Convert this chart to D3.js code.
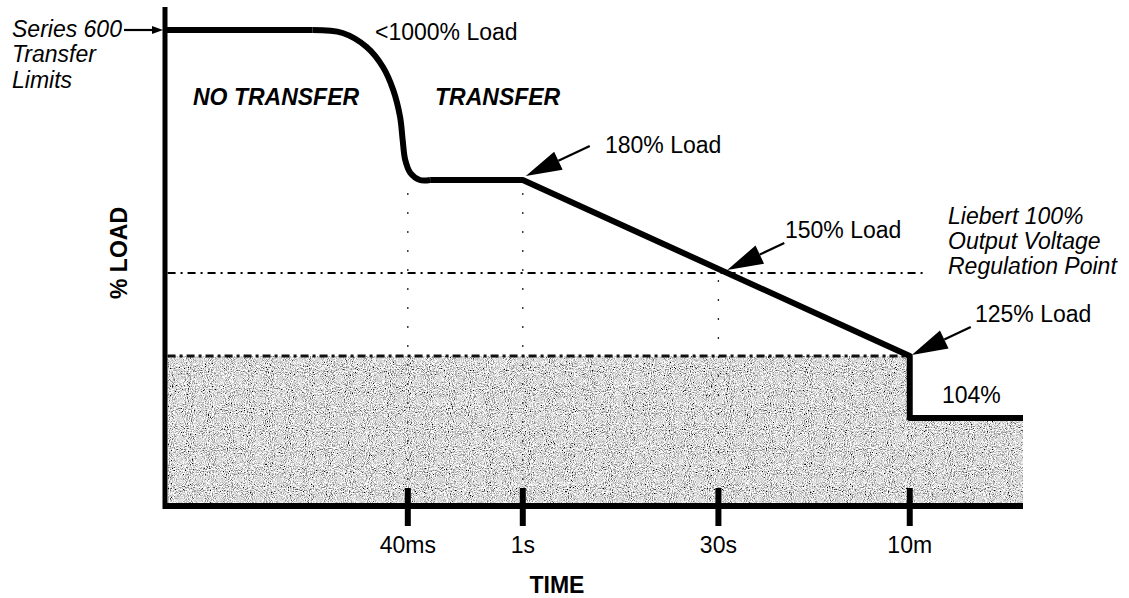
<!DOCTYPE html>
<html>
<head>
<meta charset="utf-8">
<script src="https://cdn.jsdelivr.net/npm/d3@7"></script>
<style>
  body { margin: 0; background: #fff; }
  svg text { font-family: "Liberation Sans", Arial, Helvetica, sans-serif; font-size: 23px; fill: #000; }
</style>
</head>
<body>
<svg id="chart" width="1129" height="598"></svg>
<script>
// chart data (time runs 0..100 along the axis, load 0..100 up the axis)
const tickLabels = ["40ms", "1s", "30s", "10m"];
const tickTimes = [28.3, 41.7, 64.5, 86.8];
const guideTops = [62.6, 62.6, 45.2, null];

const levelLabels = ["<1000% Load", "180% Load", "150% Load", "125% Load", "104%"];
const levelValues = [95.2, 65.2, 46.6, 30, 17.6];

// curved knee between the 1000% limit and the 180% plateau
const kneeCurve = [[17.2, 95.2], [20.7, 94.6], [23.5, 91.8], [25.4, 87.8], [26.6, 83.2],
  [27.4, 77.8], [27.7, 73.2], [28.0, 69.2], [28.6, 66.6], [29.7, 65.2], [30.9, 65.2]];
const limitStart = [[0, 95.2], [17.2, 95.2]];
const limitEnd = [[30.9, 65.2], [41.7, 65.2], [86.8, 30], [86.8, 17.6], [100, 17.6]];
// grey band under the 125% line and the 104% step
const shadeArea = [[0.3, 30], [86.8, 30], [86.8, 17.6], [100, 17.6], [100, 0.6], [0.3, 0.6]];

const svg = d3.select("#chart");
const x = d3.scaleLinear().domain([0, 100]).range([165, 1023]);
const y = d3.scaleLinear().domain([0, 100]).range([506, 6]);

// grainy grey fill like the printed original
const defs = svg.append("defs");
const grain = defs.append("filter").attr("id", "grain")
  .attr("x", 0).attr("y", 0).attr("width", 1).attr("height", 1);
grain.append("feTurbulence").attr("type", "fractalNoise")
  .attr("baseFrequency", 0.95).attr("numOctaves", 2).attr("seed", 4).attr("result", "n");
grain.append("feColorMatrix").attr("in", "n").attr("type", "matrix")
  .attr("values", "2.4 0 0 0 -0.5  2.4 0 0 0 -0.5  2.4 0 0 0 -0.5  0 0 0 0 1").attr("result", "g");
grain.append("feComposite").attr("in", "g").attr("in2", "SourceGraphic").attr("operator", "in");

const straight = d3.line().x(d => x(d[0])).y(d => y(d[1]));

svg.append("path")
  .attr("d", straight(shadeArea) + "Z")
  .attr("fill", "#bdbdbd")
  .attr("filter", "url(#grain)");

// dotted guides from the curve down to the time axis
tickTimes.forEach((t, i) => {
  if (guideTops[i] == null) return;
  svg.append("line")
    .attr("x1", x(t)).attr("x2", x(t))
    .attr("y1", y(guideTops[i])).attr("y2", y(0))
    .attr("stroke", "#222").attr("stroke-width", 1.3)
    .attr("stroke-dasharray", "2,17");
});

// dash-dot reference lines
svg.append("line")
  .attr("x1", x(0.3)).attr("x2", x(88.8))
  .attr("y1", y(levelValues[2])).attr("y2", y(levelValues[2]))
  .attr("stroke", "#000").attr("stroke-width", 2)
  .attr("stroke-dasharray", "8,5,2,5");
svg.append("line")
  .attr("x1", x(0.3)).attr("x2", x(86.8))
  .attr("y1", y(levelValues[3])).attr("y2", y(levelValues[3]))
  .attr("stroke", "#111").attr("stroke-width", 3)
  .attr("stroke-dasharray", "8,4,3,4");

// axes
svg.append("line").attr("x1", x(0)).attr("x2", x(0)).attr("y1", 7).attr("y2", y(0) + 3)
  .attr("stroke", "#000").attr("stroke-width", 5);
svg.append("line").attr("x1", x(0) - 2).attr("x2", x(100)).attr("y1", y(0)).attr("y2", y(0))
  .attr("stroke", "#000").attr("stroke-width", 6);

svg.selectAll(".tick")
  .data(tickTimes)
  .enter().append("line")
    .attr("class", "tick")
    .attr("x1", d => x(d)).attr("x2", d => x(d))
    .attr("y1", y(0) - 18).attr("y2", y(0) + 20)
    .attr("stroke", "#000").attr("stroke-width", 6);

svg.selectAll(".tick-label")
  .data(tickLabels)
  .enter().append("text")
    .attr("class", "tick-label")
    .attr("x", (d, i) => x(tickTimes[i]))
    .attr("y", 553)
    .attr("text-anchor", "middle")
    .text(d => d);

// transfer limit curve
const smooth = d3.line().x(d => x(d[0])).y(d => y(d[1])).curve(d3.curveCatmullRom.alpha(0.5));
[straight(limitStart), smooth(kneeCurve), straight(limitEnd)].forEach(p => {
  svg.append("path").attr("d", p)
    .attr("fill", "none").attr("stroke", "#000").attr("stroke-width", 6)
    .attr("stroke-linejoin", "round").attr("stroke-linecap", "butt");
});

// arrows
const arrow = (x0, y0, x1, y1, len, half) => {
  const dx = x1 - x0, dy = y1 - y0, L = Math.hypot(dx, dy);
  const ux = dx / L, uy = dy / L;
  const bx = x1 - ux * len, by = y1 - uy * len;
  svg.append("line").attr("x1", x0).attr("y1", y0).attr("x2", bx).attr("y2", by)
    .attr("stroke", "#000").attr("stroke-width", 2.2);
  svg.append("path")
    .attr("d", `M${x1},${y1}L${bx - uy * half},${by + ux * half}L${bx + uy * half},${by - ux * half}Z`)
    .attr("fill", "#000");
};
const slope = (levelValues[1] - levelValues[3]) / (tickTimes[3] - tickTimes[1]);
const t150 = tickTimes[1] + (levelValues[1] - levelValues[2]) / slope;
arrow(x(tickTimes[1]) + 67, y(levelValues[1]) - 34, x(tickTimes[1]) + 3, y(levelValues[1]) - 4, 36, 10);
arrow(x(t150) + 57, y(levelValues[2]) - 30, x(t150), y(levelValues[2]) - 3, 36, 10);
arrow(x(tickTimes[3]) + 61, y(levelValues[3]) - 29, x(tickTimes[3]) + 2, y(levelValues[3]) - 1, 36, 10);
arrow(124, y(levelValues[0]), x(0) - 2, y(levelValues[0]), 11, 4);

// labels
const label = (txt, px, py, style) => {
  const t = svg.append("text").attr("x", px).attr("y", py).text(txt);
  if (style === "italic" || style === "bolditalic") t.attr("font-style", "italic");
  if (style === "bold" || style === "bolditalic") t.attr("font-weight", "bold");
  return t;
};
label("Series 600", 12, 37, "italic");
label("Transfer", 12, 62, "italic");
label("Limits", 12, 88, "italic");
label("NO TRANSFER", 193, 105, "bolditalic");
label("TRANSFER", 435, 105, "bolditalic");
label(levelLabels[0], 375, 40);
label(levelLabels[1], 605, 153);
label(levelLabels[2], 785, 238);
label(levelLabels[3], 975, 322);
label(levelLabels[4], 942, 403);
label("Liebert 100%", 948, 224, "italic");
label("Output Voltage", 948, 249, "italic");
label("Regulation Point", 948, 274, "italic");
label("TIME", 557, 593, "bold").attr("text-anchor", "middle");
svg.append("text")
  .attr("transform", "translate(127,253) rotate(-90)")
  .attr("text-anchor", "middle")
  .attr("font-weight", "bold")
  .text("% LOAD");
</script>
</body>
</html>
